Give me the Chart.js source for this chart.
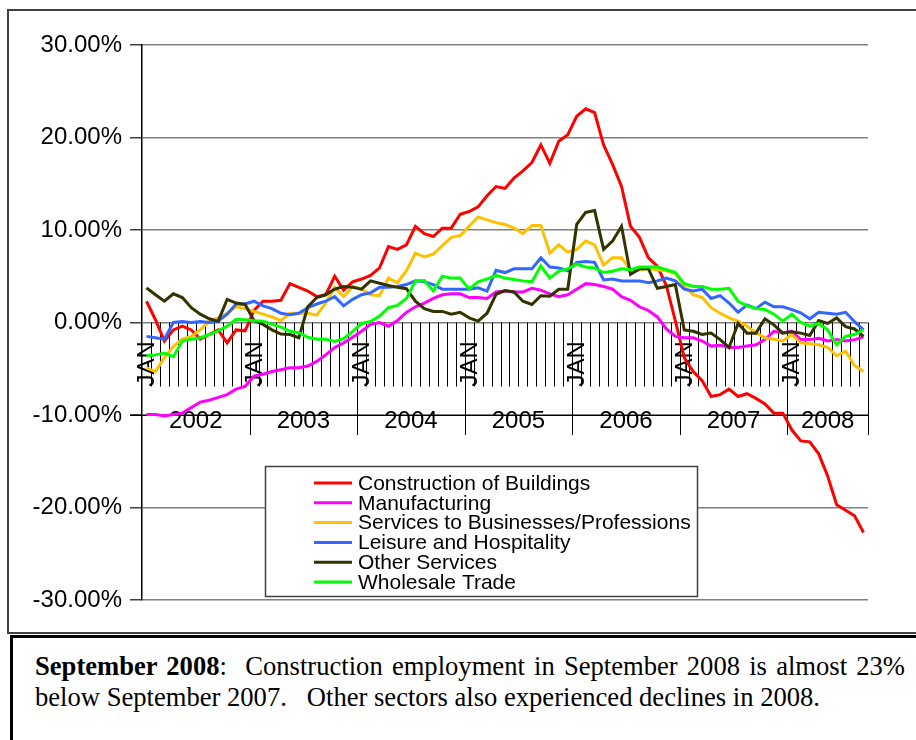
<!DOCTYPE html>
<html>
<head>
<meta charset="utf-8">
<script src="https://cdn.jsdelivr.net/npm/chart.js@4"></script>
<style>
  html, body { margin: 0; padding: 0; background: #fff; width: 916px; height: 740px; overflow: hidden; position: relative; }
  #frame { position: absolute; left: 7px; top: 9px; width: 960px; height: 621px; border: 2px solid #404040; }
  #chart { position: absolute; left: 0; top: 0; }
  #note {
    position: absolute; left: 10px; top: 635px; width: 870px; height: 100px;
    border: 3px solid #000; padding: 13px 40px 0 22px;
    font-family: "Liberation Serif", "Times New Roman", serif; font-size: 26.6px; line-height: 31px;
    text-align: justify; text-align-last: left; color: #000;
  }
</style>
</head>
<body>
<div id="frame"></div>
<canvas id="chart" width="916" height="634"></canvas>
<div id="note"><b>September 2008</b>:&nbsp; Construction employment in September 2008 is almost 23% below September 2007.&nbsp;&nbsp; Other sectors also experienced declines in 2008.</div>
<script>
// categories
const monthNames = ['JAN', 'FEB', 'MAR', 'APR', 'MAY', 'JUN', 'JUL', 'AUG', 'SEP', 'OCT', 'NOV', 'DEC'];
const years = ['2002', '2003', '2004', '2005', '2006', '2007', '2008'];
const lastMonth = 9; // data ends September 2008

// year-over-year change, % (Jan 2002 .. Sep 2008)
const construction = [2.3, 0.3, -2.0, -0.8, -0.4, -0.8, -1.8, -1.3, -0.8, -2.2, -0.8, -0.9,
  1.3, 2.3, 2.3, 2.4, 4.2, 3.8, 3.4, 2.8, 3.0, 5.0, 3.5, 4.4,
  4.7, 5.1, 5.9, 8.2, 7.9, 8.4, 10.4, 9.6, 9.3, 10.2, 10.2, 11.7,
  12.0, 12.5, 13.7, 14.7, 14.5, 15.6, 16.4, 17.3, 19.2, 17.2, 19.6, 20.3,
  22.3, 23.1, 22.7, 19.2, 17.1, 14.7, 10.4, 9.2, 7.0, 6.1, 4.0, 0.2,
  -3.8, -5.3, -6.3, -8.0, -7.8, -7.2, -8.0, -7.7, -8.2, -8.8, -9.8, -9.8,
  -11.6, -12.8, -12.9, -14.2, -16.6, -19.7, -20.3, -20.9, -22.7];
const manufacturing = [-9.95, -9.95, -10.1, -9.95, -9.8, -9.2, -8.6, -8.4, -8.1, -7.8, -7.2, -6.9,
  -5.8, -5.6, -5.3, -5.1, -4.9, -4.9, -4.7, -4.2, -3.5, -2.7, -2.2, -1.6,
  -0.95, -0.2, 0.0, -0.4, 0.2, 1.1, 1.7, 2.1, 2.6, 3.0, 3.1, 3.1,
  2.7, 2.7, 2.6, 3.3, 3.4, 3.3, 3.3, 3.7, 3.5, 3.1, 2.8, 3.0,
  3.6, 4.2, 4.1, 3.9, 3.6, 2.8, 2.4, 1.7, 1.3, 0.6, -0.7, -1.5,
  -1.65, -1.65, -2.0, -2.55, -2.45, -2.7, -2.7, -2.55, -2.4, -1.85, -0.95, -1.1,
  -0.95, -1.85, -1.85, -1.7, -2.0, -1.85, -2.0, -1.85, -1.55];
const services = [-4.9, -5.3, -3.8, -2.6, -1.8, -1.5, -0.8, 0.15, 0.5, 1.0, 1.7, 1.5,
  1.2, 0.9, 0.6, 0.2, 1.0, 1.0, 1.0, 0.8, 2.1, 3.8, 2.8, 3.9,
  3.6, 3.0, 2.9, 4.8, 4.3, 5.6, 7.5, 7.1, 7.4, 8.3, 9.2, 9.4,
  10.4, 11.4, 11.1, 10.8, 10.6, 10.2, 9.6, 10.5, 10.5, 7.5, 8.4, 7.6,
  7.9, 8.8, 8.4, 6.2, 7.0, 7.0, 5.7, 5.7, 5.8, 5.7, 5.6, 5.3,
  3.9, 3.0, 2.7, 1.6, 1.0, 0.5, 0.15, -0.4, -1.1, -1.65, -1.8, -2.0,
  -1.3, -2.2, -2.3, -2.4, -2.7, -3.6, -3.1, -4.65, -5.3];
const leisure = [-1.5, -1.65, -1.8, 0.0, 0.1, 0.0, 0.1, 0.0, 0.15, 0.9, 2.0, 2.0,
  2.3, 1.8, 1.5, 1.0, 0.85, 1.0, 1.6, 2.0, 2.3, 2.8, 1.8, 2.5,
  3.0, 3.2, 3.8, 3.8, 3.9, 4.1, 4.5, 4.4, 4.1, 3.6, 3.6, 3.6,
  3.6, 3.75, 3.4, 5.65, 5.4, 5.8, 5.8, 5.8, 7.0, 6.0, 5.9, 5.6,
  6.5, 6.6, 6.5, 4.6, 4.7, 4.5, 4.5, 4.5, 4.3, 4.5, 4.8, 4.5,
  3.6, 3.4, 3.6, 2.6, 2.9, 2.1, 1.1, 1.9, 1.5, 2.2, 1.7, 1.7,
  1.4, 1.05, 0.4, 1.1, 1.0, 0.9, 1.1, 0.1, -0.8];
const otherServices = [3.75, 3.0, 2.3, 3.1, 2.7, 1.6, 0.9, 0.4, 0.15, 2.5, 2.1, 1.95,
  0.2, -0.2, -0.8, -1.25, -1.3, -1.65, 1.7, 2.7, 3.0, 3.6, 3.9, 3.8,
  3.6, 4.5, 4.25, 4.0, 3.8, 3.65, 2.3, 1.5, 1.2, 1.2, 0.9, 1.1,
  0.5, 0.15, 1.0, 3.05, 3.45, 3.3, 2.3, 1.95, 2.9, 2.85, 3.6, 3.6,
  10.6, 11.9, 12.1, 7.9, 8.8, 10.4, 5.2, 5.8, 5.8, 3.7, 3.9, 4.1,
  -0.8, -0.95, -1.3, -1.15, -1.85, -2.7, -0.1, -1.15, -1.15, 0.4, -0.25, -1.15,
  -1.0, -1.15, -1.4, 0.2, -0.1, 0.5, -0.45, -0.7, -1.5];
const wholesale = [-3.6, -3.5, -3.3, -3.7, -2.0, -1.8, -1.65, -1.3, -0.9, -0.4, 0.35, 0.3,
  0.2, 0.15, -0.2, -0.5, -0.95, -1.1, -1.6, -1.8, -1.8, -2.05, -1.75, -0.95,
  -0.1, 0.1, 0.7, 1.6, 1.85, 2.6, 4.5, 4.55, 3.4, 5.0, 4.8, 4.8,
  3.6, 4.4, 4.7, 5.1, 4.8, 4.65, 4.5, 4.4, 6.1, 4.8, 5.55, 5.8,
  6.3, 6.0, 5.9, 5.4, 5.55, 5.8, 5.7, 6.0, 6.0, 6.0, 5.7, 5.4,
  4.2, 3.9, 3.9, 3.6, 3.6, 3.7, 2.3, 1.8, 1.5, 1.4, 0.9, 0.15,
  0.9, 0.0, -0.4, -0.1, -0.8, -2.4, -1.5, -1.3, -0.8];

const months = [];
years.forEach((yr, k) => {
  const count = k === years.length - 1 ? lastMonth : 12;
  for (let m = 0; m < count; m++) months.push(monthNames[m] + ' ' + yr);
});

const series = [
  { label: 'Construction of Buildings', data: construction, color: '#ff0000' },
  { label: 'Manufacturing', data: manufacturing, color: '#ff00ff' },
  { label: 'Services to Businesses/Professions', data: services, color: '#ffc000' },
  { label: 'Leisure and Hospitality', data: leisure, color: '#3366ff' },
  { label: 'Other Services', data: otherServices, color: '#333300' },
  { label: 'Wholesale Trade', data: wholesale, color: '#00ff00' }
];

const FONT = '"Liberation Sans", Arial, sans-serif';

// month ticks, JAN labels and year boxes hanging from the zero line
const categoryAxis = {
  id: 'categoryAxis',
  beforeDatasetsDraw(chart) {
    const { ctx, scales: { x, y } } = chart;
    const n = months.length;
    const half = (x.getPixelForValue(1) - x.getPixelForValue(0)) / 2;
    const edge = i => (i < n ? x.getPixelForValue(i) - half : x.getPixelForValue(n - 1) + half);
    const y0 = y.getPixelForValue(0);
    const yBox = y.getPixelForValue(-10);

    ctx.save();
    ctx.strokeStyle = '#000';
    ctx.lineWidth = 1;
    for (let i = 1; i <= n; i++) {
      const px = Math.round(edge(i)) + 0.5;
      const isYear = i % 12 === 0 || i === n;
      ctx.beginPath();
      ctx.moveTo(px, y0);
      ctx.lineTo(px, isYear ? yBox + 20 : y0 + 64);
      ctx.stroke();
    }
    ctx.beginPath();
    ctx.moveTo(chart.chartArea.left - 12, Math.round(yBox) + 0.5);
    ctx.lineTo(chart.chartArea.right, Math.round(yBox) + 0.5);
    ctx.stroke();

    ctx.fillStyle = '#000';
    ctx.font = '24px ' + FONT;
    for (let i = 0; i < n; i++) {
      if (!months[i].startsWith('JAN')) continue;
      ctx.save();
      ctx.translate(x.getPixelForValue(i) + 1, y0 + 64);
      ctx.rotate(-Math.PI / 2);
      ctx.textAlign = 'left';
      ctx.textBaseline = 'middle';
      ctx.fillText('JAN', 0, 0);
      ctx.restore();
    }
    ctx.textAlign = 'center';
    ctx.textBaseline = 'middle';
    years.forEach((yr, k) => {
      const a = edge(k * 12);
      const b = edge(Math.min((k + 1) * 12, n));
      ctx.fillText(yr, (a + b) / 2, yBox + 6);
    });
    ctx.restore();
  },
  afterDraw(chart) {
    const { ctx } = chart;
    ctx.save();
    ctx.fillStyle = '#fff';
    ctx.fillRect(265, 466, 432, 131);
    ctx.strokeStyle = '#404040';
    ctx.lineWidth = 1.5;
    ctx.strokeRect(265.5, 466.5, 432, 130);
    ctx.font = '21px ' + FONT;
    ctx.textBaseline = 'middle';
    ctx.textAlign = 'left';
    chart.data.datasets.forEach((ds, k) => {
      const ly = 483 + k * 19.8;
      ctx.strokeStyle = ds.borderColor;
      ctx.lineWidth = 3;
      ctx.beginPath();
      ctx.moveTo(314, ly);
      ctx.lineTo(352, ly);
      ctx.stroke();
      ctx.fillStyle = '#000';
      ctx.fillText(ds.label, 358, ly + 1);
    });
    ctx.restore();
  }
};

new Chart(document.getElementById('chart'), {
  type: 'line',
  data: {
    labels: months,
    datasets: series.map((s, k) => ({
      label: s.label,
      data: s.data,
      borderColor: s.color,
      backgroundColor: s.color,
      borderWidth: 3,
      pointRadius: 0,
      tension: 0,
      fill: false,
      order: series.length - k
    }))
  },
  options: {
    responsive: false,
    animation: false,
    devicePixelRatio: 1,
    layout: { padding: { left: 0, right: 48, top: 45, bottom: 34 } },
    plugins: { legend: { display: false }, tooltip: { enabled: false } },
    scales: {
      x: { type: 'category', offset: true, display: false },
      y: {
        min: -30,
        max: 30,
        afterFit: scale => { scale.width = 142; },
        ticks: {
          stepSize: 10,
          padding: 8,
          color: '#000',
          font: { family: FONT, size: 24 },
          callback: v => v.toFixed(2) + '%'
        },
        grid: { color: '#808080', lineWidth: 1.5, tickLength: 12, tickColor: '#404040' },
        border: { color: '#000', width: 1.5 }
      }
    }
  },
  plugins: [categoryAxis]
});
</script>
</body>
</html>
